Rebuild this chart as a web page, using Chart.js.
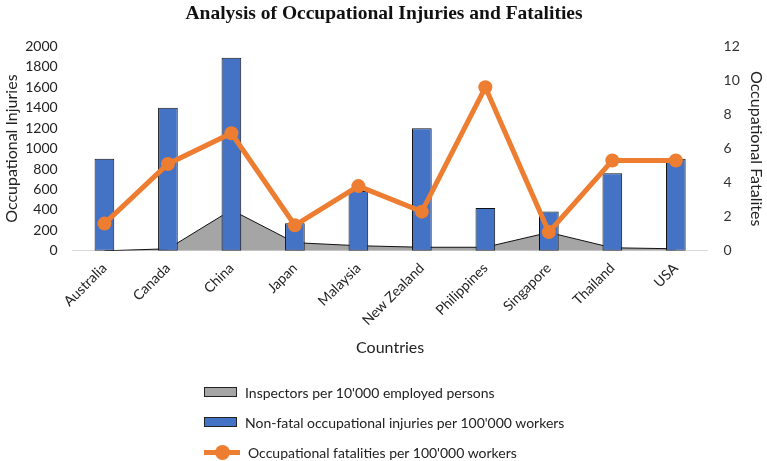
<!DOCTYPE html>
<html lang="en">
<head>
  <meta charset="UTF-8" />
  <title>Occupational Injuries and Fatalities</title>
  <script src="https://cdn.jsdelivr.net/npm/chart.js@4.4.0/dist/chart.umd.min.js"></script>
  <style>
    * { margin: 0; padding: 0; box-sizing: border-box; }
    body { background: #fff; font-family: Lato, 'Liberation Sans', sans-serif; }
    .wrap { position: relative; width: 767px; height: 461px; }
    .legend { position: absolute; left: 204px; top: 377px; font-size: 14px; color: #222; }
    .legend div { display: flex; align-items: center; height: 30px; }
    .sw { display: inline-block; margin-right: 8px; }
    .sw.box { width: 33px; height: 10px; border: 1px solid #222; }
    .sw.line { width: 36px; height: 16px; position: relative; }
    .sw.line::before { content: ""; position: absolute; left: 0; right: 0; top: 6px; height: 5px; background: #ed7d31; }
    .sw.line::after { content: ""; position: absolute; left: 11px; top: 1px; width: 15px; height: 15px; border-radius: 50%; background: #ed7d31; }
  </style>
</head>
<body>
  <div class="wrap">
    <canvas id="chart" width="767" height="461"></canvas>
    <div class="legend">
      <div><span class="sw box" style="background:#a5a5a5"></span>Inspectors per 10'000 employed persons</div>
      <div><span class="sw box" style="background:#4472c4"></span>Non-fatal occupational injuries per 100'000 workers</div>
      <div><span class="sw line"></span>Occupational fatalities per 100'000 workers</div>
    </div>
  </div>

  <script>
    const countries = ["Australia", "Canada", "China", "Japan", "Malaysia", "New Zealand", "Philippines", "Singapore", "Thailand", "USA"];
    const inspectors = [0, 20, 400, 80, 50, 35, 35, 180, 30, 20];
    const injuries = [900, 1400, 1890, 270, 585, 1200, 420, 385, 760, 900];
    const fatalities = [1.6, 5.1, 6.9, 1.5, 3.8, 2.3, 9.6, 1.1, 5.3, 5.3];

    const leftTicks = [0, 200, 400, 600, 800, 1000, 1200, 1400, 1600, 1800, 2000];
    const rightTicks = [0, 2, 4, 6, 8, 10, 12];

    Chart.defaults.font.family = "Lato, 'Liberation Sans', sans-serif";
    Chart.defaults.color = "#222";

    new Chart(document.getElementById("chart"), {
      data: {
        labels: countries,
        datasets: [
          {
            type: "line",
            label: "Occupational fatalities per 100'000 workers",
            data: fatalities,
            yAxisID: "y1",
            borderColor: "#ed7d31",
            backgroundColor: "#ed7d31",
            borderWidth: 5,
            pointRadius: 7,
            pointBorderWidth: 0,
            tension: 0,
            order: 0
          },
          {
            type: "bar",
            label: "Non-fatal occupational injuries per 100'000 workers",
            data: injuries,
            yAxisID: "y",
            backgroundColor: "#4472c4",
            borderColor: "#111",
            borderWidth: 1,
            borderSkipped: false,
            barPercentage: 0.31,
            categoryPercentage: 1,
            order: 1
          },
          {
            type: "line",
            label: "Inspectors per 10'000 employed persons",
            data: inspectors,
            yAxisID: "y",
            borderColor: "#111",
            borderWidth: 1,
            backgroundColor: "#a5a5a5",
            fill: "origin",
            pointRadius: 0,
            tension: 0,
            order: 2
          }
        ]
      },
      options: {
        responsive: false,
        animation: false,
        layout: { padding: { left: 2, right: 1, top: 0, bottom: 100 } },
        plugins: {
          legend: { display: false },
          tooltip: { enabled: false },
          title: {
            display: true,
            text: "Analysis of Occupational Injuries and Fatalities",
            font: { family: "'Liberation Serif', 'Times New Roman', serif", size: 19.5, weight: "bold" },
            color: "#111",
            padding: { top: 2, bottom: 21 }
          }
        },
        scales: {
          x: {
            grid: { display: false, drawTicks: false },
            border: { display: true, color: "#d9d9d9", width: 1 },
            ticks: { maxRotation: 45, minRotation: 45, autoSkip: false, font: { size: 14 }, padding: 9 },
            title: { display: true, text: "Countries", font: { size: 16 }, padding: { top: 0 } }
          },
          y: {
            position: "left",
            min: 0,
            max: 2000,
            afterBuildTicks: axis => { axis.ticks = leftTicks.map(v => ({ value: v })); },
            grid: { display: false, drawTicks: false },
            border: { display: false },
            ticks: { font: { size: 14 }, padding: 15, callback: v => String(v) },
            // negative bottom padding cancels the tick padding that Chart.js counts twice
            title: { display: true, text: "Occupational Injuries", font: { size: 16 }, padding: { top: 0, bottom: -11 } }
          },
          y1: {
            position: "right",
            min: 0,
            max: 12,
            afterBuildTicks: axis => { axis.ticks = rightTicks.map(v => ({ value: v })); },
            grid: { display: false, drawTicks: false },
            border: { display: false },
            ticks: { font: { size: 14 }, padding: 16, color: "#333", callback: v => String(v) },
            title: { display: true, text: "Occupational Fatalites", font: { size: 16 }, padding: { top: 0, bottom: -9 } }
          }
        }
      }
    });
  </script>
</body>
</html>
